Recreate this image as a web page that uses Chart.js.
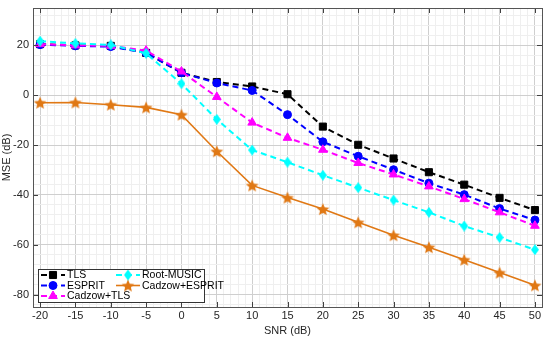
<!DOCTYPE html>
<html lang="en">
  <head>
    <meta charset="UTF-8" />
    <title>MSE vs SNR</title>
    <style>
      body { margin: 0; background: #fff; }
      #wrap { width: 550px; height: 338px; }
    </style>
  </head>
  <body>
    <div id="wrap">
      <canvas id="myChart" width="550" height="338"></canvas>
    </div>
    <script src="https://cdn.jsdelivr.net/npm/chart.js@4.4.1/dist/chart.umd.min.js"></script>
    <script>
      // data
      const snr = [-20, -15, -10, -5, 0, 5, 10, 15, 20, 25, 30, 35, 40, 45, 50];
      const tls = [20.5, 20, 19.8, 17, 9, 5.3, 3.5, 0.4, -12.6, -19.9, -25.4, -30.9, -35.9, -41.2, -46.1];
      const esprit = [20.3, 19.8, 19.5, 17, 9, 4.9, 1.9, -7.8, -18.7, -24.5, -29.9, -35.3, -39.9, -45.5, -50.1];
      const cadzowTls = [20.5, 20, 19.8, 17.9, 9.5, -0.7, -11, -17.1, -21.9, -27.2, -31.8, -36.6, -41.7, -47, -52.4];
      const rootMusic = [21.7, 20.8, 20.2, 16.8, 4.6, -9.7, -22, -26.9, -32.1, -37.1, -42.1, -47, -52.5, -57.1, -62];
      const cadzowEsprit = [-3, -2.9, -3.8, -4.9, -7.8, -22.5, -36.2, -41.1, -45.7, -51, -56.2, -61, -66, -71.2, -76.3];

      const xTicks = [-20, -15, -10, -5, 0, 5, 10, 15, 20, 25, 30, 35, 40, 45, 50];
      const yTicks = [-80, -60, -40, -20, 0, 20];

      const FONT = "'Liberation Sans', Arial, sans-serif";
      const ORANGE = "#E07814";

      // five pointed star marker
      function makeStar(size, color) {
        const c = document.createElement("canvas");
        c.width = size;
        c.height = size;
        const g = c.getContext("2d");
        const cx = size / 2, cy = size / 2 + 0.7;
        const R = size / 2 - 0.3, r = R * 0.45;
        g.beginPath();
        for (let i = 0; i < 10; i++) {
          const a = -Math.PI / 2 + (i * Math.PI) / 5;
          const rr = i % 2 === 0 ? R : r;
          g.lineTo(cx + rr * Math.cos(a), cy + rr * Math.sin(a));
        }
        g.closePath();
        g.fillStyle = color;
        g.fill();
        return c;
      }

      // tall diamond like matlab's 'd'
      function makeDiamond(w, h, color) {
        const c = document.createElement("canvas");
        c.width = w;
        c.height = h;
        const g = c.getContext("2d");
        g.beginPath();
        g.moveTo(w / 2, 0);
        g.lineTo(w, h / 2);
        g.lineTo(w / 2, h);
        g.lineTo(0, h / 2);
        g.closePath();
        g.fillStyle = color;
        g.fill();
        return c;
      }

      const star = makeStar(14, ORANGE);
      const diamond = makeDiamond(8, 11, "#00FFFF");

      const pts = (ys) => snr.map((x, i) => ({ x: x, y: ys[i] }));

      function ds(label, ys, color, style, radius, dashed) {
        return {
          label: label,
          data: pts(ys),
          borderColor: color,
          backgroundColor: color,
          pointBackgroundColor: color,
          pointBorderColor: color,
          pointStyle: style,
          pointRadius: radius,
          pointBorderWidth: 1,
          borderWidth: dashed ? 2 : 1.6,
          borderDash: dashed ? [6, 4] : [],
          tension: 0,
          fill: false,
        };
      }

      const datasets = [
        ds("Cadzow+ESPRIT", cadzowEsprit, ORANGE, star, 7, false),
        ds("Root-MUSIC", rootMusic, "#00FFFF", diamond, 5, true),
        ds("Cadzow+TLS", cadzowTls, "#FF00FF", "triangle", 5, true),
        ds("ESPRIT", esprit, "#0000FF", "circle", 4, true),
        ds("TLS", tls, "#000000", "rect", 5, true),
      ];

      // legend order: column 1 then column 2
      const legendOrder = ["TLS", "ESPRIT", "Cadzow+TLS", "Root-MUSIC", "Cadzow+ESPRIT"];

      const boxPlugin = {
        id: "matlabBox",
        afterDraw(chart) {
          const { ctx, chartArea: a, scales } = chart;
          ctx.save();
          // inner tick marks
          ctx.strokeStyle = "#404040";
          ctx.lineWidth = 1;
          ctx.beginPath();
          xTicks.forEach((v) => {
            const px = Math.round(scales.x.getPixelForValue(v)) + 0.5;
            ctx.moveTo(px, a.bottom);
            ctx.lineTo(px, a.bottom - 5);
            ctx.moveTo(px, a.top);
            ctx.lineTo(px, a.top + 5);
          });
          yTicks.forEach((v) => {
            const py = Math.round(scales.y.getPixelForValue(v)) + 0.5;
            ctx.moveTo(a.left, py);
            ctx.lineTo(a.left + 5, py);
            ctx.moveTo(a.right, py);
            ctx.lineTo(a.right - 5, py);
          });
          ctx.stroke();
          ctx.strokeStyle = "#555";
          ctx.strokeRect(Math.round(a.left) + 0.5, Math.round(a.top) + 0.5, Math.round(a.right - a.left), Math.round(a.bottom - a.top));

          // legend box
          const lx = a.left + 5, ly = a.bottom - 38, lw = 166, lh = 33;
          ctx.fillStyle = "#fff";
          ctx.fillRect(lx, ly, lw, lh);
          ctx.strokeStyle = "#333";
          ctx.strokeRect(lx + 0.5, ly + 0.5, lw, lh);
          ctx.font = "10.5px " + FONT;
          ctx.textBaseline = "middle";
          ctx.textAlign = "left";
          legendOrder.forEach((name, i) => {
            const d = chart.data.datasets.find((e) => e.label === name);
            const col = i < 3 ? 0 : 1;
            const row = i < 3 ? i : i - 3;
            const x0 = lx + 3 + col * 75;
            const y0 = ly + 6 + row * 10.5;
            ctx.strokeStyle = d.borderColor;
            ctx.lineWidth = d.borderWidth;
            ctx.setLineDash(d.borderDash);
            ctx.beginPath();
            ctx.moveTo(x0, y0);
            ctx.lineTo(x0 + 24, y0);
            ctx.stroke();
            ctx.setLineDash([]);
            ctx.fillStyle = d.backgroundColor;
            ctx.strokeStyle = d.borderColor;
            ctx.lineWidth = 1;
            Chart.helpers.drawPoint(ctx, { pointStyle: d.pointStyle, radius: d.pointRadius, rotation: 0, borderWidth: 1 }, x0 + 12, y0);
            ctx.fillStyle = "#000";
            ctx.fillText(name, x0 + 26, y0 + 0.5);
          });
          ctx.restore();
        },
      };

      const gridColor = (major) => (ctx) => {
        const v = ctx.tick ? ctx.tick.value : 0;
        return major(v) ? "#cfcfcf" : "#efefef";
      };

      const ctx = document.getElementById("myChart").getContext("2d");
      const myChart = new Chart(ctx, {
        type: "line",
        data: { datasets: datasets },
        plugins: [boxPlugin],
        options: {
          responsive: false,
          animation: false,
          layout: { padding: { top: -2, right: 0, left: 0, bottom: 0 } },
          plugins: { legend: { display: false }, tooltip: { enabled: false } },
          scales: {
            x: {
              type: "linear",
              min: -21,
              max: 51,
              afterBuildTicks: (s) => {
                const t = [];
                for (let v = -21; v <= 51; v++) t.push({ value: v });
                s.ticks = t;
              },
              afterFit: (s) => { s.height = 31; s.paddingLeft = 0; s.paddingRight = 0; },
              ticks: {
                autoSkip: false,
                maxRotation: 0,
                padding: 2,
                color: "#262626",
                font: { family: FONT, size: 11 },
                callback: (v) => (xTicks.includes(v) ? String(v) : ""),
              },
              grid: { color: gridColor((v) => v % 5 === 0), drawTicks: false, lineWidth: 1 },
              border: { display: false },
              title: { display: true, text: "SNR (dB)", color: "#262626", font: { family: FONT, size: 11 }, padding: { top: 1, bottom: 0 } },
            },
            y: {
              type: "linear",
              min: -85,
              max: 35,
              afterBuildTicks: (s) => {
                const t = [];
                for (let v = -84; v <= 32; v += 4) t.push({ value: v });
                s.ticks = t;
              },
              afterFit: (s) => { s.width = 33; s.paddingTop = 0; s.paddingBottom = 0; },
              ticks: {
                autoSkip: false,
                padding: 4,
                color: "#262626",
                font: { family: FONT, size: 11 },
                callback: (v) => (yTicks.includes(v) ? String(v) : ""),
              },
              grid: { color: gridColor((v) => v % 20 === 0), drawTicks: false, lineWidth: 1 },
              border: { display: false },
              title: { display: true, text: "MSE (dB)", color: "#262626", font: { family: FONT, size: 11 }, padding: { top: 0, bottom: 0 } },
            },
          },
        },
      });
    </script>
  </body>
</html>
